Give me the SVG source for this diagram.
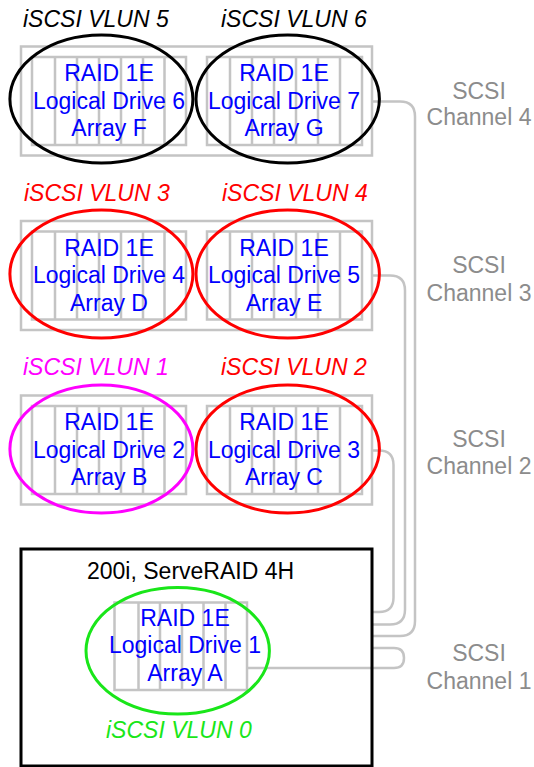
<svg xmlns="http://www.w3.org/2000/svg" width="534" height="767" viewBox="0 0 534 767">
  <style>
    text { font-family: "Liberation Sans", Arial, sans-serif; font-size: 23px; }
    .encl { fill: none; stroke: #c4c4c4; stroke-width: 2.5; }
    .bay { fill: none; stroke: #c4c4c4; stroke-width: 2.5; }
    .drive { fill: #0000ff; text-anchor: middle; }
    .vlun { font-style: italic; }
    .ring { fill: none; stroke-width: 3; }
    .cable { fill: none; stroke: #c4c4c4; stroke-width: 2.5; }
    .chan { fill: #8c8c8c; text-anchor: middle; }
  </style>

  <!-- Storage enclosures -->
  <g id="enclosure-row1"><rect class="encl" x="21" y="46.5" width="351" height="109"/></g>
  <g id="enclosure-row2"><rect class="encl" x="21" y="221" width="351" height="109"/></g>
  <g id="enclosure-row3"><rect class="encl" x="21" y="395.5" width="351" height="109"/></g>

  <!-- SCSI cables -->
  <g id="connectors">
    <path class="cable" d="M372 101.5 H400 Q415 101.5 415 116.5 V621 Q415 636 400 636 H372"/>
    <path class="cable" d="M372 275.5 H390 Q405 275.5 405 290.5 V609.5 Q405 624.5 390 624.5 H372"/>
    <path class="cable" d="M372 450.5 H379 Q393.5 450.5 393.5 465 V597.5 Q393.5 612 379 612 H372"/>
    <path class="cable" d="M247 668 H394 Q404 668 404 658 Q404 648 394 648 H372"/>
  </g>

  <!-- Channel labels -->
  <g id="label-ch4"><text class="chan" x="479" y="98.5">SCSI</text><text class="chan" x="479" y="125">Channel 4</text></g>
  <g id="label-ch3"><text class="chan" x="479" y="273">SCSI</text><text class="chan" x="479" y="300.5">Channel 3</text></g>
  <g id="label-ch2"><text class="chan" x="479" y="447">SCSI</text><text class="chan" x="479" y="474">Channel 2</text></g>
  <g id="label-ch1"><text class="chan" x="479" y="661">SCSI</text><text class="chan" x="479" y="688.5">Channel 1</text></g>

  <!-- Row 1 -->
  <g id="array-f">
    <rect class="bay" x="32" y="57" width="154" height="88"/>
    <path class="bay" d="M55 57V145M77 57V145M99 57V145M121 57V145M143 57V145M164.5 57V145"/>
    <text class="drive" x="109" y="81">RAID 1E</text>
    <text class="drive" x="109" y="108.5">Logical Drive 6</text>
    <text class="drive" x="109" y="136">Array F</text>
    <ellipse class="ring" stroke="#000" cx="101.4" cy="99" rx="91.5" ry="64"/>
    <text class="vlun" x="23" y="26.5" fill="#000">iSCSI VLUN 5</text>
  </g>
  <g id="array-g">
    <rect class="bay" x="207" y="57" width="155" height="88"/>
    <path class="bay" d="M230 57V145M252 57V145M274 57V145M296 57V145M318 57V145M340 57V145"/>
    <text class="drive" x="284" y="81">RAID 1E</text>
    <text class="drive" x="284" y="108.5">Logical Drive 7</text>
    <text class="drive" x="284" y="136">Array G</text>
    <ellipse class="ring" stroke="#000" cx="287.7" cy="99" rx="91.7" ry="64"/>
    <text class="vlun" x="221" y="26.5" fill="#000">iSCSI VLUN 6</text>
  </g>

  <!-- Row 2 -->
  <g id="array-d">
    <rect class="bay" x="32" y="231.5" width="154" height="88"/>
    <path class="bay" d="M55 231.5V319.5M77 231.5V319.5M99 231.5V319.5M121 231.5V319.5M143 231.5V319.5M164.5 231.5V319.5"/>
    <text class="drive" x="109" y="255.5">RAID 1E</text>
    <text class="drive" x="109" y="283">Logical Drive 4</text>
    <text class="drive" x="109" y="310.5">Array D</text>
    <ellipse class="ring" stroke="#ff0000" cx="101.4" cy="274" rx="91.5" ry="64"/>
    <text class="vlun" x="24" y="200.7" fill="#ff0000">iSCSI VLUN 3</text>
  </g>
  <g id="array-e">
    <rect class="bay" x="207" y="231.5" width="155" height="88"/>
    <path class="bay" d="M230 231.5V319.5M252 231.5V319.5M274 231.5V319.5M296 231.5V319.5M318 231.5V319.5M340 231.5V319.5"/>
    <text class="drive" x="284" y="255.5">RAID 1E</text>
    <text class="drive" x="284" y="283">Logical Drive 5</text>
    <text class="drive" x="284" y="310.5">Array E</text>
    <ellipse class="ring" stroke="#ff0000" cx="287.7" cy="274" rx="91.7" ry="64"/>
    <text class="vlun" x="222" y="200.7" fill="#ff0000">iSCSI VLUN 4</text>
  </g>

  <!-- Row 3 -->
  <g id="array-b">
    <rect class="bay" x="32" y="406" width="154" height="88"/>
    <path class="bay" d="M55 406V494M77 406V494M99 406V494M121 406V494M143 406V494M164.5 406V494"/>
    <text class="drive" x="109" y="430">RAID 1E</text>
    <text class="drive" x="109" y="457.5">Logical Drive 2</text>
    <text class="drive" x="109" y="485">Array B</text>
    <ellipse class="ring" stroke="#ff00ff" cx="101.4" cy="449" rx="91.5" ry="64"/>
    <text class="vlun" x="23" y="375" fill="#ff00ff">iSCSI VLUN 1</text>
  </g>
  <g id="array-c">
    <rect class="bay" x="207" y="406" width="155" height="88"/>
    <path class="bay" d="M230 406V494M252 406V494M274 406V494M296 406V494M318 406V494M340 406V494"/>
    <text class="drive" x="284" y="430">RAID 1E</text>
    <text class="drive" x="284" y="457.5">Logical Drive 3</text>
    <text class="drive" x="284" y="485">Array C</text>
    <ellipse class="ring" stroke="#ff0000" cx="287.7" cy="449" rx="91.7" ry="64"/>
    <text class="vlun" x="221" y="375" fill="#ff0000">iSCSI VLUN 2</text>
  </g>

  <!-- Server with controller -->
  <g id="server">
    <rect x="21" y="549" width="351" height="217" fill="none" stroke="#000" stroke-width="3"/>
    <text x="87" y="579.3" fill="#000">200i, ServeRAID 4H</text>
  </g>
  <g id="array-a">
    <rect class="bay" x="114.5" y="602.5" width="132.5" height="87.5"/>
    <path class="bay" d="M138.5 602.5V690M160 602.5V690M182 602.5V690M203.5 602.5V690M225.5 602.5V690"/>
    <text class="drive" x="185" y="626">RAID 1E</text>
    <text class="drive" x="185" y="653.3">Logical Drive 1</text>
    <text class="drive" x="185" y="681">Array A</text>
    <ellipse class="ring" stroke="#19e619" cx="177.7" cy="650.7" rx="91.7" ry="63.3"/>
    <text class="vlun" x="106" y="738.3" fill="#19e619">iSCSI VLUN 0</text>
  </g>
</svg>
